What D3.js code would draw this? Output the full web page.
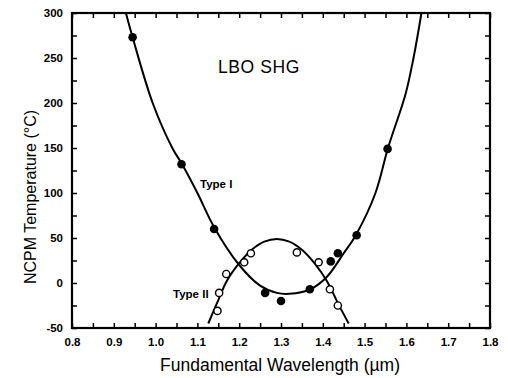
<!DOCTYPE html>
<html><head><meta charset="utf-8">
<script src="https://cdn.jsdelivr.net/npm/d3@7/dist/d3.min.js"></script>
<style>body{margin:0;background:#fff}svg{display:block}text{font-family:Arial,"Liberation Sans",sans-serif}</style>
</head><body><svg id="c" width="508" height="378"></svg>
<script>
// Measured points
const typeIWl   = [0.945, 1.062, 1.140, 1.262, 1.300, 1.369, 1.419, 1.436, 1.481, 1.555];
const typeIT    = [273, 132, 60, -11, -20, -7, 24, 33, 53, 149];
const typeIIWl  = [1.148, 1.152, 1.169, 1.212, 1.228, 1.338, 1.390, 1.417, 1.436];
const typeIIT   = [-31, -11, 10, 23, 33, 34, 23, -7, -25];
// Fitted curves
const fitIWl  = [0.929, 0.945, 0.993, 1.04, 1.062, 1.10, 1.14, 1.20, 1.25, 1.29, 1.32, 1.37, 1.41, 1.45, 1.48, 1.526, 1.556, 1.598, 1.617, 1.636];
const fitIT   = [300, 273, 200, 150, 133, 100, 62, 20, -3, -11, -12, -7, 7, 33, 54, 100, 150, 210, 250, 300];
const fitIIWl = [1.126, 1.15, 1.17, 1.20, 1.23, 1.26, 1.29, 1.32, 1.35, 1.38, 1.41, 1.44, 1.462];
const fitIIT  = [-45, -19, 2, 22, 37, 46, 49, 46, 37, 22, 2, -26, -45];
const xTicks = [0.8, 0.9, 1.0, 1.1, 1.2, 1.3, 1.4, 1.5, 1.6, 1.7, 1.8];
const yTicks = [-50, 0, 50, 100, 150, 200, 250, 300];

const svg = d3.select("#c");
const L = 72, R = 490, T = 13, B = 328;
const x = d3.scaleLinear().domain([0.8, 1.8]).range([L, R]);
const y = d3.scaleLinear().domain([-50, 300]).range([B, T]);

const xMinor = d3.range(0, 21).map(i => 0.8 + i * 0.05);
const yMinor = d3.range(0, 15).map(i => -50 + i * 25);

function styleAxis(g) {
  g.select(".domain").remove();
  g.selectAll(".tick line").attr("stroke", "#000").attr("stroke-width", 1.5);
  g.selectAll("text").attr("font-size", 11.5).attr("font-weight", "bold").attr("fill", "#000");
}
// bottom
svg.append("g").attr("transform", `translate(0,${B})`)
  .call(d3.axisBottom(x).tickValues(xMinor).tickSize(-5).tickPadding(10)
    .tickFormat(d => xTicks.some(t => Math.abs(t - d) < 1e-6) ? d3.format(".1f")(d) : ""))
  .call(styleAxis);
// top
svg.append("g").attr("transform", `translate(0,${T})`)
  .call(d3.axisTop(x).tickValues(xMinor).tickSize(-5).tickFormat(""))
  .call(styleAxis);
// left
svg.append("g").attr("transform", `translate(${L},0)`)
  .call(d3.axisLeft(y).tickValues(yMinor).tickSize(-5).tickPadding(9)
    .tickFormat(d => yTicks.includes(d) ? d : ""))
  .call(styleAxis);
// right
svg.append("g").attr("transform", `translate(${R},0)`)
  .call(d3.axisRight(y).tickValues(yMinor).tickSize(-5).tickFormat(""))
  .call(styleAxis);

// frame
svg.append("rect").attr("x", L).attr("y", T).attr("width", R - L).attr("height", B - T)
  .attr("fill", "none").attr("stroke", "#000").attr("stroke-width", 2.2);

const line = d3.line().x(d => x(d[0])).y(d => y(d[1])).curve(d3.curveCatmullRom.alpha(0.5));
svg.append("path").datum(d3.zip(fitIWl, fitIT)).attr("d", line)
  .attr("fill", "none").attr("stroke", "#000").attr("stroke-width", 2);
svg.append("path").datum(d3.zip(fitIIWl, fitIIT)).attr("d", line)
  .attr("fill", "none").attr("stroke", "#000").attr("stroke-width", 2);

svg.selectAll("circle.f").data(d3.zip(typeIWl, typeIT)).join("circle")
  .attr("cx", d => x(d[0])).attr("cy", d => y(d[1])).attr("r", 4.3).attr("fill", "#000");
svg.selectAll("circle.o").data(d3.zip(typeIIWl, typeIIT)).join("circle")
  .attr("cx", d => x(d[0])).attr("cy", d => y(d[1])).attr("r", 3.6)
  .attr("fill", "#fff").attr("stroke", "#000").attr("stroke-width", 1.4);

svg.append("text").attr("x", 218).attr("y", 73).attr("font-size", 17.5).attr("letter-spacing", 0.6).text("LBO SHG");
svg.append("text").attr("x", 200).attr("y", 188).attr("font-size", 11.5).attr("font-weight", "bold").text("Type I");
svg.append("text").attr("x", 173).attr("y", 298).attr("font-size", 11.5).attr("font-weight", "bold").text("Type II");

svg.append("text").attr("x", 280).attr("y", 371).attr("text-anchor", "middle").attr("font-size", 17.5)
  .text("Fundamental Wavelength (\u00b5m)");
svg.append("text").attr("transform", "translate(36,197) rotate(-90)").attr("text-anchor", "middle").attr("font-size", 16)
  .text("NCPM Temperature (\u00b0C)");
</script></body></html>
